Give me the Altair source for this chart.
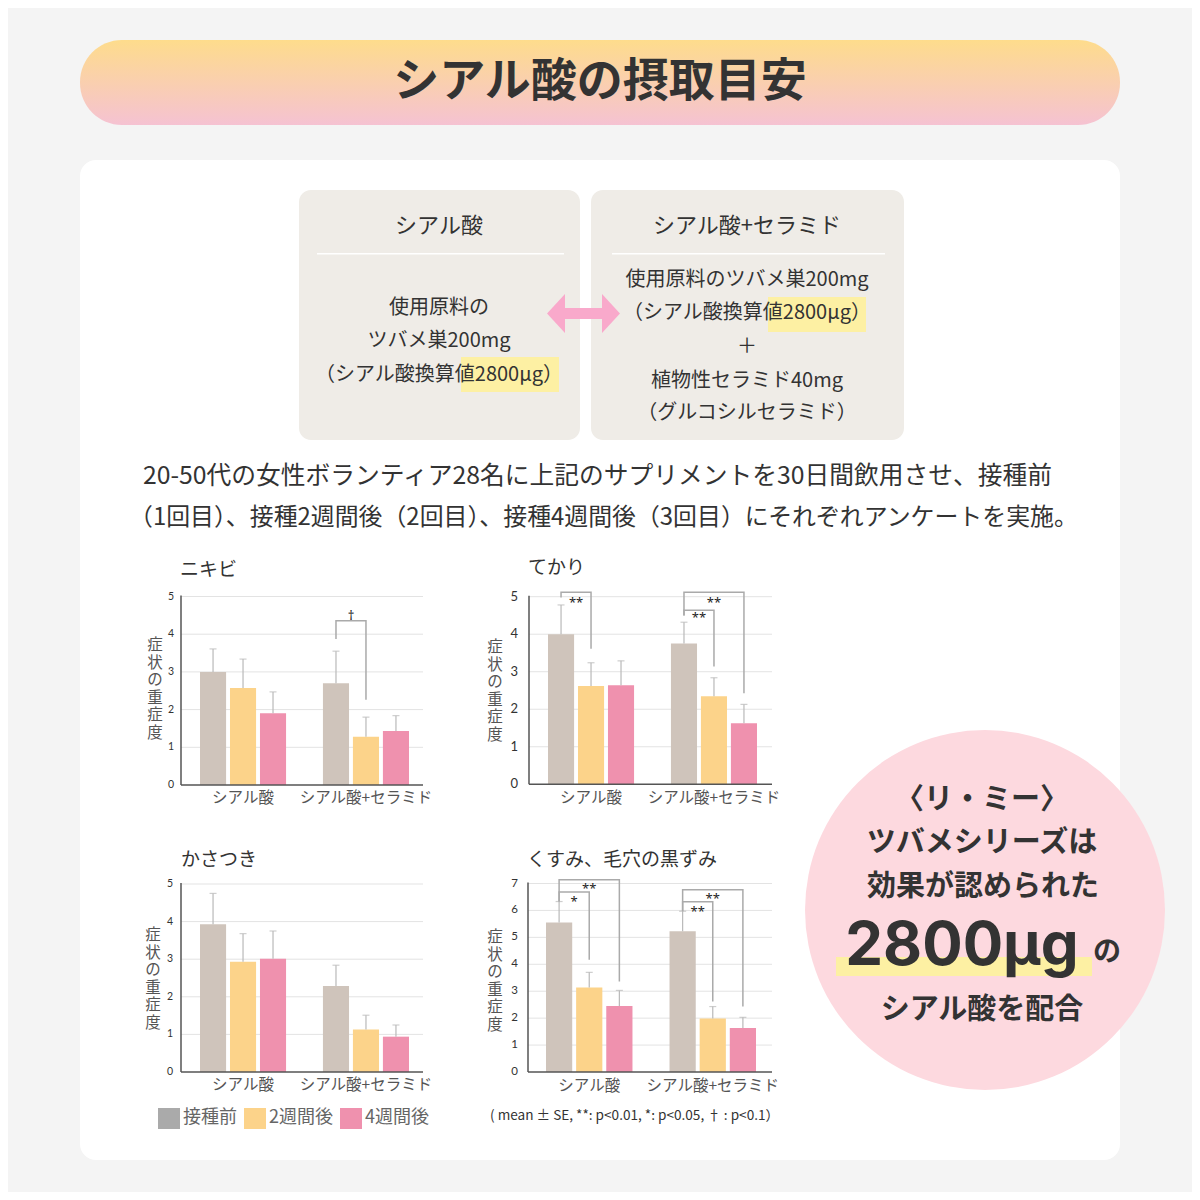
import altair as alt
import pandas as pd

M = 8  # page body margin: reference pixel -> chart pixel
JP = "Noto Sans CJK JP"
INK = "#333333"

groups = ["シアル酸", "シアル酸+セラミド"]
periods = ["接種前", "2週間後", "4週間後"]
bar_colors = ["#cfc4bb", "#fcd38a", "#ef91ae"]
legend_colors = ["#aaaaaa", "#fcd38a", "#ef91ae"]

# mean and mean+SE; order: シアル酸 x 3 periods, then シアル酸+セラミド x 3 periods
nikibi_mean = [3.00, 2.57, 1.90, 2.70, 1.28, 1.43]
nikibi_top = [3.61, 3.34, 2.47, 3.55, 1.80, 1.84]
tekari_mean = [4.00, 2.62, 2.64, 3.75, 2.35, 1.63]
tekari_top = [4.78, 3.24, 3.29, 4.32, 2.84, 2.13]
kasatsuki_mean = [3.93, 2.93, 3.01, 2.29, 1.13, 0.94]
kasatsuki_top = [4.75, 3.68, 3.75, 2.84, 1.51, 1.25]
kusumi_mean = [5.55, 3.14, 2.45, 5.23, 1.99, 1.63]
kusumi_top = [6.33, 3.70, 3.03, 5.97, 2.43, 2.03]

# brackets: group, from, to, top, left leg end, right leg end, mark, mark height
nikibi_sig = [("シアル酸+セラミド", "接種前", "2週間後", 4.36, 3.87, 2.26, "†", 4.55)]
tekari_sig = [
    ("シアル酸", "接種前", "2週間後", 5.12, 4.98, 3.61, "**", 4.91),
    ("シアル酸+セラミド", "接種前", "4週間後", 5.12, 4.50, 2.43, "**", 4.91),
    ("シアル酸+セラミド", "接種前", "2週間後", 4.64, 4.50, 3.14, "**", 4.50),
]
kasatsuki_sig = []
kusumi_sig = [
    ("シアル酸", "接種前", "4週間後", 7.14, 6.33, 3.36, "**", 6.92),
    ("シアル酸", "接種前", "2週間後", 6.68, 6.33, 4.17, "*", 6.41),
    ("シアル酸+セラミド", "接種前", "4週間後", 6.77, 5.97, 2.43, "**", 6.53),
    ("シアル酸+セラミド", "接種前", "2週間後", 6.32, 5.97, 2.62, "**", 6.06),
]

one = pd.DataFrame({"k": [0]})


def at(v):
    return alt.value(v - M)


def rect(x1, y1, x2, y2, fill, r=0):
    return alt.Chart(one).mark_rect(fill=fill, cornerRadius=r).encode(
        x=at(x1), x2=at(x2), y=at(y1), y2=at(y2))


def label(s, x, y, size, weight="normal", color=INK, align="center", font=JP, **kw):
    return alt.Chart(one).mark_text(
        text=s, fontSize=size, fontWeight=weight, color=color, align=align,
        baseline="middle", font=font, **kw).encode(x=at(x), y=at(y))


def panel(title, means, tops, sig, ymax, frame, bars, y0, y1, tick_x, tick_size,
          title_xy, cat_y, ytitle_xy):
    left, right = frame
    df = pd.DataFrame({
        "group": [g for g in groups for _ in periods],
        "period": periods * 2,
        "mean": means,
        "top": tops,
    })
    xs = alt.Scale(domain=groups, range=[bars[0] - M, bars[1] - M],
                   paddingInner=0.3, paddingOuter=0)
    X = alt.X("group:N", scale=xs, axis=None)
    XO = alt.XOffset("period:N", scale=alt.Scale(domain=periods, paddingInner=0.13, paddingOuter=0))
    ys = alt.Scale(domain=[0, ymax], range=[y0 - M, y1 - M], nice=False)

    def Y(f):
        return alt.Y(f, scale=ys, axis=None)

    ticks = pd.DataFrame({"v": list(range(ymax + 1))})
    layers = [
        alt.Chart(ticks).transform_filter(alt.datum.v > 0)
        .mark_rule(color="#e3e3e3", strokeWidth=1)
        .encode(y=Y("v:Q"), x=at(left), x2=at(right)),
        alt.Chart(ticks).mark_text(align="right", baseline="middle", fontSize=tick_size,
                                   color=INK, font="Lato")
        .encode(y=Y("v:Q"), text="v:Q", x=at(tick_x)),
        alt.Chart(df).mark_bar().encode(
            x=X, xOffset=XO, y=Y("mean:Q"),
            color=alt.Color("period:N", scale=alt.Scale(domain=periods, range=bar_colors), legend=None)),
        alt.Chart(df).mark_rule(color="#b9b9b9", strokeWidth=1.2).encode(
            x=X, xOffset=XO, y=Y("mean:Q"), y2="top:Q"),
        alt.Chart(df).mark_tick(color="#b9b9b9", thickness=1.2, size=7, orient="horizontal").encode(
            x=X, xOffset=XO, y=Y("top:Q")),
        alt.Chart(one).mark_rule(color="#555555", strokeWidth=1.5).encode(
            x=at(left), y=at(y1 - 1), y2=at(y0)),
        alt.Chart(one).mark_rule(color="#555555", strokeWidth=1.5).encode(
            x=at(left), x2=at(right), y=at(y0)),
        alt.Chart(pd.DataFrame({"group": groups})).mark_text(
            fontSize=15.5, color="#555555", font=JP, baseline="middle").encode(
            x=X, y=at(cat_y), text="group:N"),
        label(title, title_xy[0], title_xy[1], 19, align="left"),
        # vertical axis title, one character per line (y is the first character)
        label(list("症状の重症度"), ytitle_xy[0], ytitle_xy[1], 15.5, color="#555555", lineHeight=17.6),
    ]

    if sig:
        rows, marks = [], []
        for i, (g, a, b, top, la, lb, lab, ly) in enumerate(sig):
            for k, (p, v) in enumerate([(a, la), (a, top), (b, top), (b, lb)]):
                rows.append({"id": i, "k": k, "group": g, "period": p, "v": v})
            span = periods.index(b) - periods.index(a)
            anchor = a if span == 1 else periods[periods.index(a) + 1]
            marks.append({"group": g, "period": anchor, "lab": lab, "v": ly, "span": span})
        lines = pd.DataFrame(rows)
        marks = pd.DataFrame(marks)
        layers.append(
            alt.Chart(lines).mark_line(color="#aaaaaa", strokeWidth=1.5).encode(
                x=X, xOffset=XO, y=Y("v:Q"), detail="id:N", order="k:Q"))
        for span, dx in [(1, 15), (2, 0)]:
            layers.append(
                alt.Chart(marks).transform_filter(alt.datum.span == span)
                .mark_text(fontSize=13, dx=dx, dy=3, baseline="middle", color="#222222", font="Noto Sans")
                .encode(x=X, xOffset=XO, y=Y("v:Q"), text="lab:N"))
    return alt.layer(*layers)


title_fill = alt.LinearGradient(
    gradient="linear", x1=0, x2=0, y1=0, y2=1,
    stops=[alt.GradientStop(color="#fedc8c", offset=0), alt.GradientStop(color="#f5c2d2", offset=1)])

decor = [
    rect(80, 40, 1120, 125, title_fill, r=42),
    label("シアル酸の摂取目安", 600, 82, 46, weight="bold"),
    rect(80, 160, 1120, 1160, "#ffffff", r=16),
    rect(299, 190, 580, 440, "#efece7", r=12),
    rect(591, 190, 904, 440, "#efece7", r=12),
    label("シアル酸", 439, 226, 22),
    label("シアル酸+セラミド", 747, 226, 22),
    rect(317, 253, 564, 254.5, "#ffffff"),
    rect(612, 253, 885, 254.5, "#ffffff"),
    rect(461, 357, 559, 392, "#fdf0a3"),
    rect(768, 297, 866, 332, "#fdf0a3"),
    label("使用原料の", 439, 308, 20),
    label("ツバメ巣200mg", 439, 341, 20),
    label("（シアル酸換算値2800μg）", 439, 375, 20),
    label("使用原料のツバメ巣200mg", 747, 280, 20),
    label("（シアル酸換算値2800μg）", 747, 313, 20),
    label("＋", 747, 347, 20),
    label("植物性セラミド40mg", 747, 381, 20),
    label("（グルコシルセラミド）", 747, 413, 20),
    rect(563, 308, 604, 319, "#f9a9cb"),
    alt.Chart(one).mark_point(shape="M-0.46,0L0.46,-1L0.46,1Z", size=1521, filled=True,
                              color="#f9a9cb", opacity=1, strokeWidth=0).encode(x=at(556), y=at(313.5)),
    alt.Chart(one).mark_point(shape="M0.46,0L-0.46,-1L-0.46,1Z", size=1521, filled=True,
                              color="#f9a9cb", opacity=1, strokeWidth=0).encode(x=at(611), y=at(313.5)),
    label("20-50代の女性ボランティア28名に上記のサプリメントを30日間飲用させ、接種前",
          143, 477, 24.75, align="left"),
    label("（1回目）、接種2週間後（2回目）、接種4週間後（3回目）にそれぞれアンケートを実施。",
          129, 518, 23.9, align="left"),
]

panels = [
    panel("ニキビ", nikibi_mean, nikibi_top, nikibi_sig, 5, (181, 423), (200, 409), 785, 596.5,
          174, 10.5, (180, 570), 798, (155, 645)),
    panel("てかり", tekari_mean, tekari_top, tekari_sig, 5, (529, 772), (548, 757), 784.3, 596.7,
          518, 13, (528, 568), 798, (495, 647)),
    panel("かさつき", kasatsuki_mean, kasatsuki_top, kasatsuki_sig, 5, (181, 423), (200, 409), 1072, 884,
          173, 10.5, (181, 860), 1085, (153, 935)),
    panel("くすみ、毛穴の黒ずみ", kusumi_mean, kusumi_top, kusumi_sig, 7, (528, 772), (546, 756), 1072, 883.5,
          518, 11.5, (527, 860), 1086, (495, 937)),
]

# legend swatches (left edges of the squares)
legend_x = [158, 244, 340]
legend = []
for p, c, lx in zip(periods, legend_colors, legend_x):
    legend.append(rect(lx, 1108, lx + 22, 1129, c))
    legend.append(label(p, lx + 25, 1118, 18, color="#666666", align="left"))

badge = [
    alt.Chart(one).mark_circle(size=129600, color="#fdd9df", opacity=1).encode(x=at(985), y=at(910)),
    label("〈リ・ミー〉", 982, 800, 29, weight="bold"),
    label("ツバメシリーズは", 982, 843, 29, weight="bold"),
    label("効果が認められた", 983, 887, 29, weight="bold"),
    rect(836, 957, 1092, 976, "#fdf0a3"),
    alt.Chart(one).mark_text(text="2800μg", fontSize=60, fontWeight="bold", color=INK, font="Inter",
                             align="center", baseline="alphabetic").encode(x=at(962), y=at(965)),
    label("の", 1107, 953, 28, weight="bold"),
    label("シアル酸を配合", 982, 1010, 29, weight="bold"),
    label("( mean ± SE, **: p<0.01, *: p<0.05, † : p<0.1）", 490, 1116, 13.6, align="left"),
]

chart = alt.layer(*decor, *panels, *legend, *badge).resolve_scale(
    x="independent", y="independent", xOffset="independent"
).properties(
    width=1184, height=1184, padding=0, background="#f4f4f4",
    autosize=alt.AutoSizeParams(type="none"),
).configure_view(strokeWidth=0)

chart.save("out.html", embed_options={"renderer": "svg", "actions": False})
